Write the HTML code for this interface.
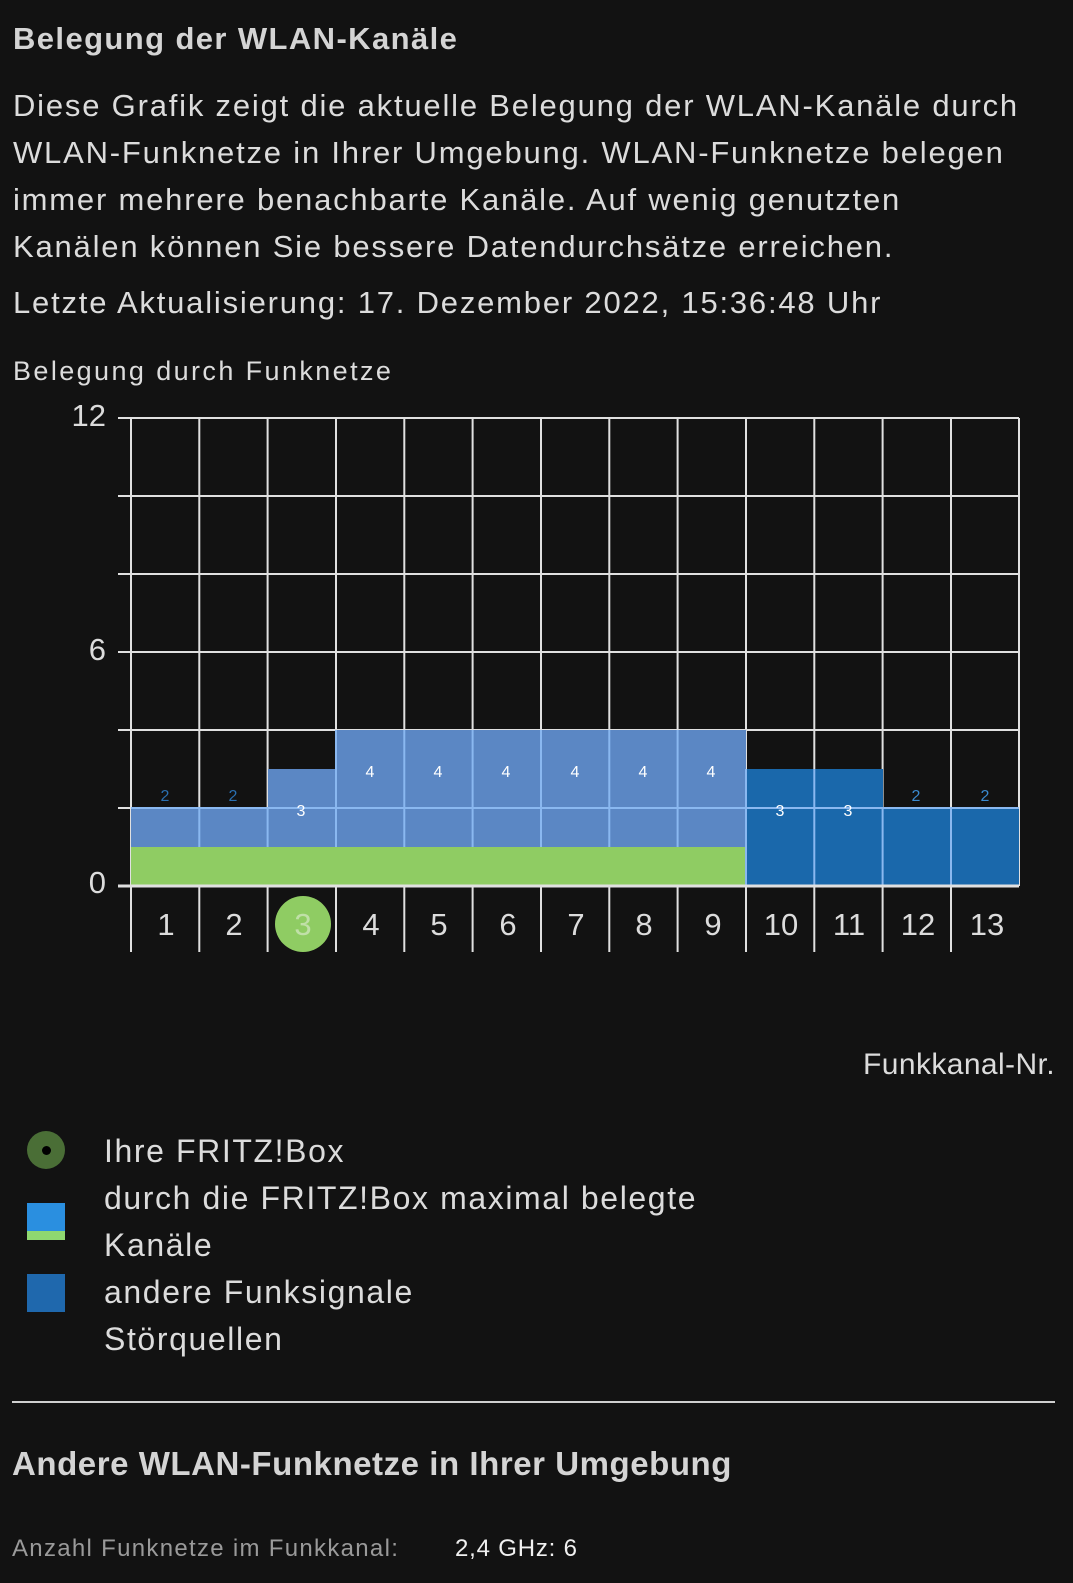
<!DOCTYPE html>
<html><head><meta charset="utf-8"><style>
body{margin:0;background:#121212;width:1073px;height:1583px;overflow:hidden;font-family:"Liberation Sans",sans-serif;color:#dcdcdc;position:relative}
.t{position:absolute;white-space:nowrap}
</style></head><body>
<div class="t" style="left:13px;top:21px;font-size:31px;font-weight:bold;color:#d4d4d4;letter-spacing:1.4px">Belegung der WLAN-Kanäle</div>
<div class="t" style="left:13px;top:82px;font-size:31px;line-height:47px;letter-spacing:1.8px">Diese Grafik zeigt die aktuelle Belegung der WLAN-Kanäle durch<br>WLAN-Funknetze in Ihrer Umgebung. WLAN-Funknetze belegen<br>immer mehrere benachbarte Kanäle. Auf wenig genutzten<br>Kanälen können Sie bessere Datendurchsätze erreichen.</div>
<div class="t" style="left:13px;top:285px;font-size:31px;letter-spacing:1.8px">Letzte Aktualisierung: 17. Dezember 2022, 15:36:48 Uhr</div>
<div class="t" style="left:13px;top:356px;font-size:27px;letter-spacing:2.4px">Belegung durch Funknetze</div>
<svg class="t" style="left:0;top:390px" width="1073" height="580" viewBox="0 390 1073 580" font-family="Liberation Sans, sans-serif">
<g stroke="#e0e0e0" stroke-width="2">
<line x1="118" y1="418" x2="1019" y2="418"/><line x1="118" y1="496" x2="1019" y2="496"/><line x1="118" y1="574" x2="1019" y2="574"/><line x1="118" y1="652" x2="1019" y2="652"/><line x1="118" y1="730" x2="1019" y2="730"/><line x1="118" y1="808" x2="1019" y2="808"/>
</g>
<g stroke="#e0e0e0" stroke-width="2">
<line x1="131" y1="418" x2="131" y2="952"/><line x1="199.3" y1="418" x2="199.3" y2="952"/><line x1="267.6" y1="418" x2="267.6" y2="952"/><line x1="336" y1="418" x2="336" y2="952"/><line x1="404.3" y1="418" x2="404.3" y2="952"/><line x1="472.6" y1="418" x2="472.6" y2="952"/><line x1="541" y1="418" x2="541" y2="952"/><line x1="609.3" y1="418" x2="609.3" y2="952"/><line x1="677.6" y1="418" x2="677.6" y2="952"/><line x1="746" y1="418" x2="746" y2="952"/><line x1="814.3" y1="418" x2="814.3" y2="952"/><line x1="882.6" y1="418" x2="882.6" y2="952"/><line x1="951" y1="418" x2="951" y2="952"/><line x1="1019" y1="418" x2="1019" y2="886"/>
</g>
<g fill="#5b87c4">
<rect x="131" y="808" width="137" height="78"/><rect x="268" y="769" width="68" height="117"/><rect x="336" y="730" width="410" height="156"/>
</g>
<g fill="#1a68ab">
<rect x="746" y="769" width="137" height="117"/><rect x="883" y="808" width="136" height="78"/>
</g>
<rect x="131" y="847" width="615" height="39" fill="#8fcc63"/>
<g stroke="#8ab8f0" stroke-width="2">
<line x1="131" y1="808" x2="1019" y2="808"/>
<line x1="199.3" y1="808" x2="199.3" y2="847"/><line x1="267.6" y1="808" x2="267.6" y2="847"/><line x1="336" y1="730" x2="336" y2="847"/><line x1="404.3" y1="730" x2="404.3" y2="847"/><line x1="472.6" y1="730" x2="472.6" y2="847"/><line x1="541" y1="730" x2="541" y2="847"/><line x1="609.3" y1="730" x2="609.3" y2="847"/><line x1="677.6" y1="730" x2="677.6" y2="847"/><line x1="746" y1="769" x2="746" y2="886"/><line x1="814.3" y1="769" x2="814.3" y2="886"/><line x1="882.6" y1="808" x2="882.6" y2="886"/><line x1="951" y1="808" x2="951" y2="886"/>
</g>
<line x1="118" y1="886" x2="1019" y2="886" stroke="#e0e0e0" stroke-width="3"/>
<g font-size="16" text-anchor="middle" fill="#fff">
<text x="165" y="801" fill="#2a6fb0">2</text><text x="233" y="801" fill="#2a6fb0">2</text><text x="301" y="816">3</text>
<text x="370" y="777">4</text><text x="438" y="777">4</text><text x="506" y="777">4</text><text x="575" y="777">4</text><text x="643" y="777">4</text><text x="711" y="777">4</text>
<text x="780" y="816">3</text><text x="848" y="816">3</text><text x="916" y="801" fill="#3a8ad0">2</text><text x="985" y="801" fill="#3a8ad0">2</text>
</g>
<g font-size="31" text-anchor="end" fill="#dcdcdc">
<text x="106" y="426">12</text><text x="106" y="660">6</text><text x="106" y="893">0</text>
</g>
<circle cx="303" cy="924" r="28" fill="#8fcc63"/>
<g font-size="31" text-anchor="middle" fill="#dcdcdc">
<text x="166" y="935">1</text><text x="234" y="935">2</text><text x="303" y="935" fill="#c0e0a8">3</text><text x="371" y="935">4</text><text x="439" y="935">5</text><text x="508" y="935">6</text><text x="576" y="935">7</text><text x="644" y="935">8</text><text x="713" y="935">9</text><text x="781" y="935">10</text><text x="849" y="935">11</text><text x="918" y="935">12</text><text x="987" y="935">13</text>
</g>
</svg>
<div class="t" style="right:18px;top:1048px;font-size:30px;letter-spacing:0.4px">Funkkanal-Nr.</div>
<div class="t" style="left:27px;top:1131px;width:38px;height:38px;border-radius:50%;background:#4a6e36"></div>
<div class="t" style="left:42px;top:1146px;width:9px;height:9px;border-radius:50%;background:#000"></div>
<div class="t" style="left:27px;top:1203px;width:38px;height:28px;background:#2a8fe0"></div>
<div class="t" style="left:27px;top:1231px;width:38px;height:9px;background:#8fd870"></div>
<div class="t" style="left:27px;top:1274px;width:38px;height:38px;background:#1f68ad"></div>
<div class="t" style="left:104px;top:1128px;font-size:32px;line-height:47px;letter-spacing:1.6px">Ihre FRITZ!Box<br>durch die FRITZ!Box maximal belegte<br>Kanäle<br>andere Funksignale<br>Störquellen</div>
<div class="t" style="left:12px;top:1401px;width:1043px;height:2px;background:#d0d0d0"></div>
<div class="t" style="left:12px;top:1445px;font-size:33px;font-weight:bold;color:#d4d4d4;letter-spacing:0.55px">Andere WLAN-Funknetze in Ihrer Umgebung</div>
<div class="t" style="left:12px;top:1535px;font-size:24px;color:#9a9a9a;letter-spacing:1.3px">Anzahl Funknetze im Funkkanal:</div>
<div class="t" style="left:455px;top:1535px;font-size:24px;color:#f0f0f0;letter-spacing:0.8px">2,4 GHz: 6</div>
</body></html>
